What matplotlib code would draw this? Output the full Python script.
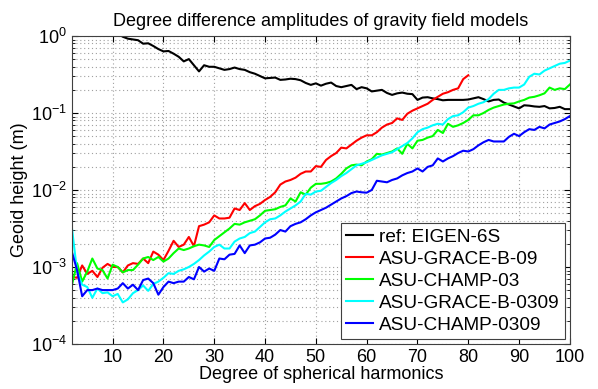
import numpy as np
import matplotlib
matplotlib.use("Agg")
import matplotlib.pyplot as plt
from matplotlib.ticker import LogLocator, FixedLocator, NullFormatter

plt.rcParams['font.family'] = ['Liberation Sans', 'DejaVu Sans']
plt.rcParams['mathtext.fontset'] = 'custom'
plt.rcParams['mathtext.rm'] = 'Liberation Sans'
plt.rcParams['mathtext.it'] = 'Liberation Sans:italic'
plt.rcParams['mathtext.bf'] = 'Liberation Sans:bold'

# degrees
degrees = list(range(2, 101))

# geoid height amplitudes, stored as log10(m)
eigen6s_log10 = [
    0.55, 0.45, 0.38, 0.30, 0.25, 0.20, 0.15, 0.10, 0.06, 0.03,          # 2-11
    -0.01, -0.035, -0.045, -0.055, -0.10, -0.095, -0.13, -0.17, -0.20,   # 12-20
    -0.195, -0.23, -0.27, -0.33, -0.30, -0.38, -0.46, -0.38, -0.40, -0.40,  # 21-30
    -0.42, -0.44, -0.43, -0.41, -0.43, -0.44, -0.47, -0.49, -0.52, -0.55,   # 31-40
    -0.545, -0.54, -0.57, -0.565, -0.555, -0.56, -0.575, -0.61, -0.635, -0.615,  # 41-50
    -0.645, -0.62, -0.605, -0.65, -0.665, -0.65, -0.635, -0.69, -0.665, -0.68,   # 51-60
    -0.72, -0.71, -0.70, -0.74, -0.765, -0.745, -0.735, -0.75, -0.755, -0.83,    # 61-70
    -0.80, -0.795, -0.81, -0.82, -0.835, -0.83, -0.83, -0.83, -0.83, -0.825,     # 71-80
    -0.81, -0.795, -0.82, -0.85, -0.83, -0.825, -0.865, -0.89, -0.915, -0.94,    # 81-90
    -0.90, -0.905, -0.915, -0.92, -0.91, -0.94, -0.935, -0.92, -0.95, -0.95,     # 91-100
]

grace_b_09_degrees = list(range(2, 81))
grace_b_09_log10 = [
    -3.13, -3.14, -2.98, -3.09, -3.05, -3.13, -3.01, -2.96, -3.00,       # 2-10
    -3.00, -3.07, -2.98, -2.95, -2.96, -2.89, -2.95, -2.80, -2.84, -2.91,  # 11-20
    -2.79, -2.66, -2.74, -2.71, -2.61, -2.73, -2.47, -2.45, -2.42, -2.33,  # 21-30
    -2.37, -2.37, -2.36, -2.24, -2.26, -2.17, -2.26, -2.21, -2.18, -2.13,  # 31-40
    -2.09, -2.03, -1.93, -1.89, -1.87, -1.84, -1.79, -1.76, -1.76, -1.69,  # 41-50
    -1.70, -1.61, -1.56, -1.52, -1.45, -1.46, -1.41, -1.36, -1.32, -1.29,  # 51-60
    -1.29, -1.25, -1.19, -1.15, -1.13, -1.07, -1.09, -1.01, -0.97, -0.94,  # 61-70
    -0.91, -0.88, -0.83, -0.79, -0.75, -0.73, -0.70, -0.68, -0.56, -0.51,  # 71-80
]

champ_03_log10 = [
    -3.23, -2.95, -3.19, -3.06, -2.89, -3.02, -3.04, -3.15, -2.97,       # 2-10
    -3.00, -3.07, -3.04, -3.04, -2.97, -2.89, -2.87, -2.91, -2.87, -2.93,  # 11-20
    -2.89, -2.82, -2.76, -2.78, -2.76, -2.73, -2.71, -2.72, -2.74, -2.65,  # 21-30
    -2.60, -2.55, -2.50, -2.44, -2.45, -2.42, -2.40, -2.38, -2.33, -2.27,  # 31-40
    -2.26, -2.25, -2.22, -2.20, -2.11, -2.15, -2.03, -2.06, -1.97, -1.92,  # 41-50
    -1.92, -1.91, -1.89, -1.85, -1.79, -1.72, -1.68, -1.67, -1.68, -1.63,  # 51-60
    -1.60, -1.53, -1.54, -1.52, -1.50, -1.46, -1.53, -1.40, -1.46, -1.36,  # 61-70
    -1.35, -1.32, -1.30, -1.22, -1.26, -1.14, -1.18, -1.16, -1.13, -1.09,  # 71-80
    -1.03, -1.03, -1.00, -0.96, -0.93, -0.91, -0.89, -0.88, -0.875, -0.85, # 81-90
    -0.83, -0.80, -0.79, -0.77, -0.745, -0.67, -0.70, -0.68, -0.69, -0.63, # 91-100
]

grace_b_0309_log10 = [
    -2.50, -3.06, -3.23, -3.26, -3.40, -3.28, -3.34, -3.33, -3.38,       # 2-10
    -3.35, -3.46, -3.42, -3.34, -3.30, -3.24, -3.31, -3.22, -3.19, -3.14,  # 11-20
    -3.08, -3.09, -3.05, -3.03, -3.00, -2.96, -2.91, -2.85, -2.80, -2.74,  # 21-30
    -2.71, -2.76, -2.76, -2.67, -2.63, -2.61, -2.56, -2.54, -2.48, -2.42,  # 31-40
    -2.38, -2.37, -2.33, -2.28, -2.24, -2.20, -2.15, -2.05, -2.06, -2.02,  # 41-50
    -2.01, -1.96, -1.91, -1.87, -1.82, -1.78, -1.73, -1.68, -1.66, -1.64,  # 51-60
    -1.61, -1.58, -1.55, -1.53, -1.51, -1.47, -1.43, -1.39, -1.33, -1.25,  # 61-70
    -1.21, -1.19, -1.16, -1.14, -1.15, -1.08, -1.04, -1.03, -0.99, -0.93,  # 71-80
    -0.91, -0.88, -0.86, -0.82, -0.75, -0.70, -0.70, -0.68, -0.67, -0.67,  # 81-90
    -0.63, -0.53, -0.49, -0.50, -0.45, -0.42, -0.39, -0.36, -0.35, -0.32,  # 91-100
]

champ_0309_log10 = [
    -2.81, -3.04, -3.38, -3.30, -3.30, -3.28, -3.30, -3.30, -3.30,       # 2-10
    -3.28, -3.21, -3.28, -3.23, -3.30, -3.17, -3.15, -3.21, -3.36, -3.26,  # 11-20
    -3.19, -3.21, -3.19, -3.19, -3.13, -3.16, -3.00, -3.06, -3.02, -3.05,  # 21-30
    -2.89, -2.90, -2.84, -2.83, -2.72, -2.82, -2.72, -2.71, -2.68, -2.63,  # 31-40
    -2.62, -2.58, -2.52, -2.54, -2.47, -2.44, -2.42, -2.38, -2.33, -2.29,  # 41-50
    -2.26, -2.23, -2.19, -2.15, -2.11, -2.08, -2.04, -2.02, -2.03, -2.035, # 51-60
    -2.00, -1.88, -1.89, -1.90, -1.87, -1.85, -1.81, -1.78, -1.76, -1.72,  # 61-70
    -1.76, -1.70, -1.68, -1.59, -1.63, -1.59, -1.56, -1.52, -1.49, -1.50,  # 71-80
    -1.47, -1.42, -1.38, -1.35, -1.37, -1.37, -1.37, -1.31, -1.27, -1.30,  # 81-90
    -1.25, -1.21, -1.22, -1.18, -1.20, -1.15, -1.13, -1.11, -1.08, -1.04,  # 91-100
]

series_names = ["ref: EIGEN-6S", "ASU-GRACE-B-09", "ASU-CHAMP-03",
                "ASU-GRACE-B-0309", "ASU-CHAMP-0309"]
series_colors = ["#000000", "#ff0000", "#00ff00", "#00ffff", "#0000ff"]

fig = plt.figure(figsize=(5.98, 3.89), dpi=100)
ax = fig.add_axes([0.1204, 0.1157, 0.8326, 0.7918])

data = [
    (degrees, eigen6s_log10),
    (grace_b_09_degrees, grace_b_09_log10),
    (degrees, champ_03_log10),
    (degrees, grace_b_0309_log10),
    (degrees, champ_0309_log10),
]
for (xd, yl), name, col in zip(data, series_names, series_colors):
    ax.plot(xd, 10.0 ** np.asarray(yl), color=col, lw=1.5, label=name)

ax.set_yscale('log')
ax.set_xlim(2, 100)
ax.set_ylim(1e-4, 1e0)
ax.xaxis.set_major_locator(FixedLocator([10, 20, 30, 40, 50, 60, 70, 80, 90, 100]))
ax.yaxis.set_major_locator(LogLocator(base=10, numticks=10))
ax.yaxis.set_minor_locator(LogLocator(base=10, subs=np.arange(2, 10), numticks=20))
ax.yaxis.set_minor_formatter(NullFormatter())

ax.grid(True, which='major', axis='both', linestyle=(0, (1, 2.5)), color='#a0a0a0', lw=0.8)
ax.grid(True, which='minor', axis='y', linestyle=(0, (1, 2.5)), color='#a0a0a0', lw=0.8)
ax.tick_params(which='both', direction='in', top=True, right=True, labelsize=13, colors='#000000')
ax.tick_params(which='major', length=4)
ax.tick_params(which='minor', length=2)
for s in ax.spines.values():
    s.set_color('#404040')
    s.set_linewidth(0.8)

ax.set_title("Degree difference amplitudes of gravity field models", fontsize=13, pad=7)
ax.set_xlabel("Degree of spherical harmonics", fontsize=13, labelpad=0)
ax.set_ylabel("Geoid height (m)", fontsize=13, labelpad=2)

leg = ax.legend(loc='lower right', fontsize=13.7, frameon=True, fancybox=False,
                edgecolor='#404040', framealpha=1, borderaxespad=0.25,
                handlelength=1.4, handletextpad=0.3, labelspacing=0.24,
                borderpad=0.3)
leg.get_frame().set_linewidth(0.8)

fig.savefig("out.png", dpi=100)
